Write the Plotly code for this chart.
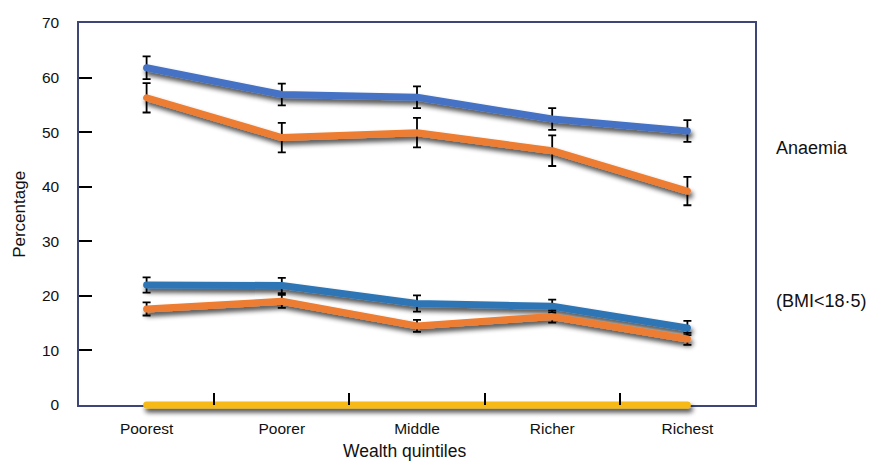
import plotly.graph_objects as go

# Wealth quintiles and prevalence (%) with error margins
quintiles = ["Poorest", "Poorer", "Middle", "Richer", "Richest"]

anaemia_a = [61.8, 56.9, 56.4, 52.4, 50.2]
anaemia_a_err = [2.1, 2.0, 2.0, 2.0, 2.0]
anaemia_b = [56.3, 49.0, 49.9, 46.6, 39.2]
anaemia_b_err = [2.7, 2.7, 2.7, 2.8, 2.6]

bmi_a = [22.0, 21.9, 18.6, 18.1, 14.1]
bmi_a_err = [1.4, 1.4, 1.5, 1.2, 1.3]
bmi_b = [17.6, 19.0, 14.5, 16.2, 12.1]
bmi_b_err = [1.2, 1.2, 1.1, 1.1, 1.1]

baseline = [0, 0, 0, 0, 0]

y_ticks = [0, 10, 20, 30, 40, 50, 60, 70]

BLUE_TOP = "#4472C4"
BLUE_LOW = "#2E75B6"
ORANGE = "#ED7D31"
YELLOW = "#F7B912"
FRAME = "#3D4677"
FONT = "Liberation Sans, Arial, sans-serif"

xs = list(range(len(quintiles)))

fig = go.Figure()


def add_series(values, errors, color):
    fig.add_trace(go.Scatter(
        x=xs, y=values, mode="lines",
        line=dict(color=color, width=7),
        error_y=dict(type="data", array=errors, visible=True,
                     color="black", thickness=1.8, width=4),
        cliponaxis=False,
        hoverinfo="skip", showlegend=False,
    ))


add_series(anaemia_a, anaemia_a_err, BLUE_TOP)
add_series(anaemia_b, anaemia_b_err, ORANGE)
add_series(bmi_a, bmi_a_err, BLUE_LOW)
add_series(bmi_b, bmi_b_err, ORANGE)

fig.add_trace(go.Scatter(
    x=xs, y=baseline, mode="lines",
    line=dict(color=YELLOW, width=7),
    cliponaxis=False,
    hoverinfo="skip", showlegend=False,
))

# invisible carrier trace for the tick-mark axes
fig.add_trace(go.Scatter(x=[0.5], y=[10], xaxis="x2", yaxis="y2",
                         mode="markers", marker=dict(opacity=0),
                         hoverinfo="skip", showlegend=False))

fig.update_layout(
    width=869, height=461,
    margin=dict(l=79, r=114, t=23, b=56),
    paper_bgcolor="white", plot_bgcolor="white",
    font=dict(family=FONT, size=15.5, color="#111111"),
    xaxis=dict(
        range=[-0.5, 4.5], tickvals=xs, ticktext=quintiles,
        ticks="", showgrid=False, zeroline=False, layer="below traces",
        showline=True, mirror=True, linecolor=FRAME, linewidth=1.5,
        tickfont=dict(size=15.5), ticklabelstandoff=9,
    ),
    yaxis=dict(
        range=[0, 70], tickvals=y_ticks, ticks="", showgrid=False,
        zeroline=False, showline=True, mirror=True, layer="below traces",
        linecolor=FRAME, linewidth=1.5,
        tickfont=dict(size=15.5), ticklabelstandoff=15,
    ),
    xaxis2=dict(
        overlaying="x", anchor="y", side="bottom", range=[-0.5, 4.5],
        tickvals=[0.5, 1.5, 2.5, 3.5], showticklabels=False,
        ticks="inside", ticklen=12, tickwidth=2, tickcolor="black",
        showgrid=False, zeroline=False, showline=False,
    ),
    yaxis2=dict(
        overlaying="y", anchor="x", side="left", range=[0, 70],
        tickvals=[10, 20, 30, 40, 50, 60], showticklabels=False,
        ticks="inside", ticklen=13, tickwidth=2, tickcolor="black",
        showgrid=False, zeroline=False, showline=False,
    ),
    annotations=[
        dict(text="Percentage", xref="paper", yref="paper",
             x=-0.089, y=0.5, textangle=-90,
             xanchor="center", yanchor="middle", showarrow=False,
             font=dict(size=17, family=FONT)),
        dict(text="Wealth quintiles", xref="paper", yref="paper",
             x=0.4815, y=-0.1204,
             xanchor="center", yanchor="middle", showarrow=False,
             font=dict(size=17.5, family=FONT)),
        dict(text="Anaemia", xref="paper", yref="y", x=1.028, y=47.1,
             xanchor="left", yanchor="middle", showarrow=False,
             font=dict(size=18, family=FONT)),
        dict(text="(BMI<18·5)", xref="paper", yref="y", x=1.028, y=19.0,
             xanchor="left", yanchor="middle", showarrow=False,
             font=dict(size=18, family=FONT)),
    ],
)

# soft drop shadow, rounded ends and no clipping on the series lines
shadow_js = """
var gd = document.getElementById('{plot_id}');
function addShadow() {
  var svg = gd.querySelector('svg.main-svg');
  if (!svg) return;
  var ns = 'http://www.w3.org/2000/svg';
  if (!document.getElementById('lineShadow')) {
    var defs = svg.querySelector('defs') || svg.insertBefore(document.createElementNS(ns, 'defs'), svg.firstChild);
    var f = document.createElementNS(ns, 'filter');
    f.setAttribute('id', 'lineShadow');
    f.setAttribute('filterUnits', 'userSpaceOnUse');
    f.setAttribute('x', '-100'); f.setAttribute('y', '-100');
    f.setAttribute('width', '2000'); f.setAttribute('height', '1000');
    f.innerHTML = '<feGaussianBlur in="SourceAlpha" stdDeviation="2.4"/>' +
      '<feOffset dx="2" dy="4" result="ob"/>' +
      '<feComponentTransfer><feFuncA type="linear" slope="0.7"/></feComponentTransfer>' +
      '<feMerge><feMergeNode/><feMergeNode in="SourceGraphic"/></feMerge>';
    defs.appendChild(f);
  }
  gd.querySelectorAll('.scatterlayer path.js-line').forEach(function (p) {
    p.setAttribute('filter', 'url(#lineShadow)');
    p.style.strokeLinecap = 'round';
    p.style.strokeLinejoin = 'round';
    var node = p;
    while (node && node !== svg) {
      if (node.removeAttribute) node.removeAttribute('clip-path');
      if (node.style) node.style.clipPath = 'none';
      node = node.parentNode;
    }
  });
}
addShadow();
if (gd.on) gd.on('plotly_afterplot', addShadow);
setTimeout(addShadow, 50);
"""

fig.write_html("out.html", post_script=shadow_js)
